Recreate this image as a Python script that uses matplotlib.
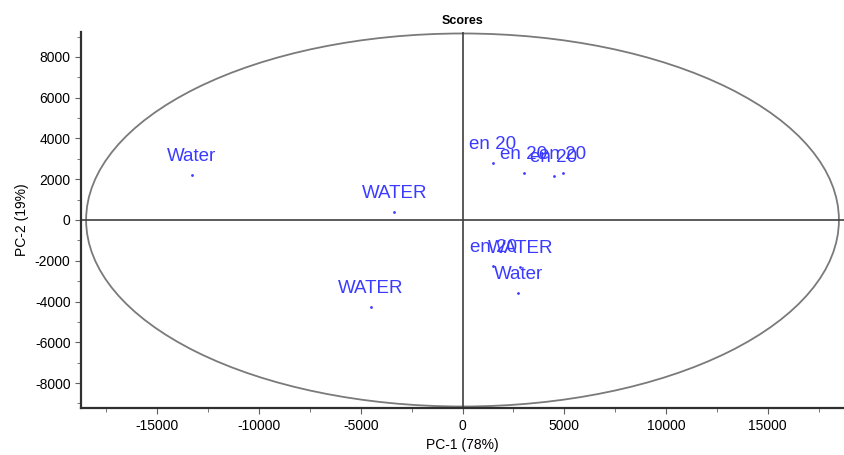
import numpy as np
import matplotlib
matplotlib.use("Agg")
import matplotlib.pyplot as plt
from matplotlib.patches import Ellipse
from matplotlib.ticker import MultipleLocator

# score values
pc1 = [-13300, -3350, -4520, 1480, 3000, 4480, 4920, 1520, 2850, 2750]
pc2 = [2210, 390, -4270, 2800, 2310, 2160, 2310, -2260, -2300, -3580]
labels = ["Water", "WATER", "WATER", "en 20", "en 20", "en 20", "en 20",
          "en 20", "WATER", "Water"]

ellipse_w = 37000
ellipse_h = 18300

plt.rcParams['font.family'] = ['Liberation Sans', 'DejaVu Sans']
plt.rcParams['axes.unicode_minus'] = False

fig = plt.figure(figsize=(8.44, 4.55), dpi=100)
ax = fig.add_axes([0.096, 0.103, 0.904, 0.827])

blue = '#3b3bff'
ax.scatter(pc1, pc2, s=4, color=blue, zorder=3, linewidths=0)
for x, y, t in zip(pc1, pc2, labels):
    ax.annotate(t, (x, y), xytext=(0, 7), textcoords='offset points',
                ha='center', va='bottom', fontsize=13.5, color=blue, zorder=4)

ax.add_patch(Ellipse((0, 0), ellipse_w, ellipse_h, fill=False,
                     edgecolor='#7a7a7a', linewidth=1.3))
ax.axhline(0, color='#404040', linewidth=1.2)
ax.axvline(0, color='#404040', linewidth=1.2)

ax.set_xlim(-18750, 18750)
ax.set_ylim(-9230, 9230)
ax.xaxis.set_major_locator(MultipleLocator(5000))
ax.xaxis.set_minor_locator(MultipleLocator(2500))
ax.yaxis.set_major_locator(MultipleLocator(2000))
ax.yaxis.set_minor_locator(MultipleLocator(1000))

for s in ['top', 'right']:
    ax.spines[s].set_visible(False)
for s in ['left', 'bottom']:
    ax.spines[s].set_linewidth(1.6)
    ax.spines[s].set_color('#303030')
ax.tick_params(which='both', direction='out', color='#606060', labelsize=10)
ax.tick_params(which='major', length=4)
ax.tick_params(which='minor', length=3)

ax.set_title('Scores', fontsize=9, fontweight='bold', pad=6)
ax.set_xlabel('PC-1 (78%)', fontsize=10)
ax.set_ylabel('PC-2 (19%)', fontsize=10)

fig.savefig('out.png', dpi=100)
